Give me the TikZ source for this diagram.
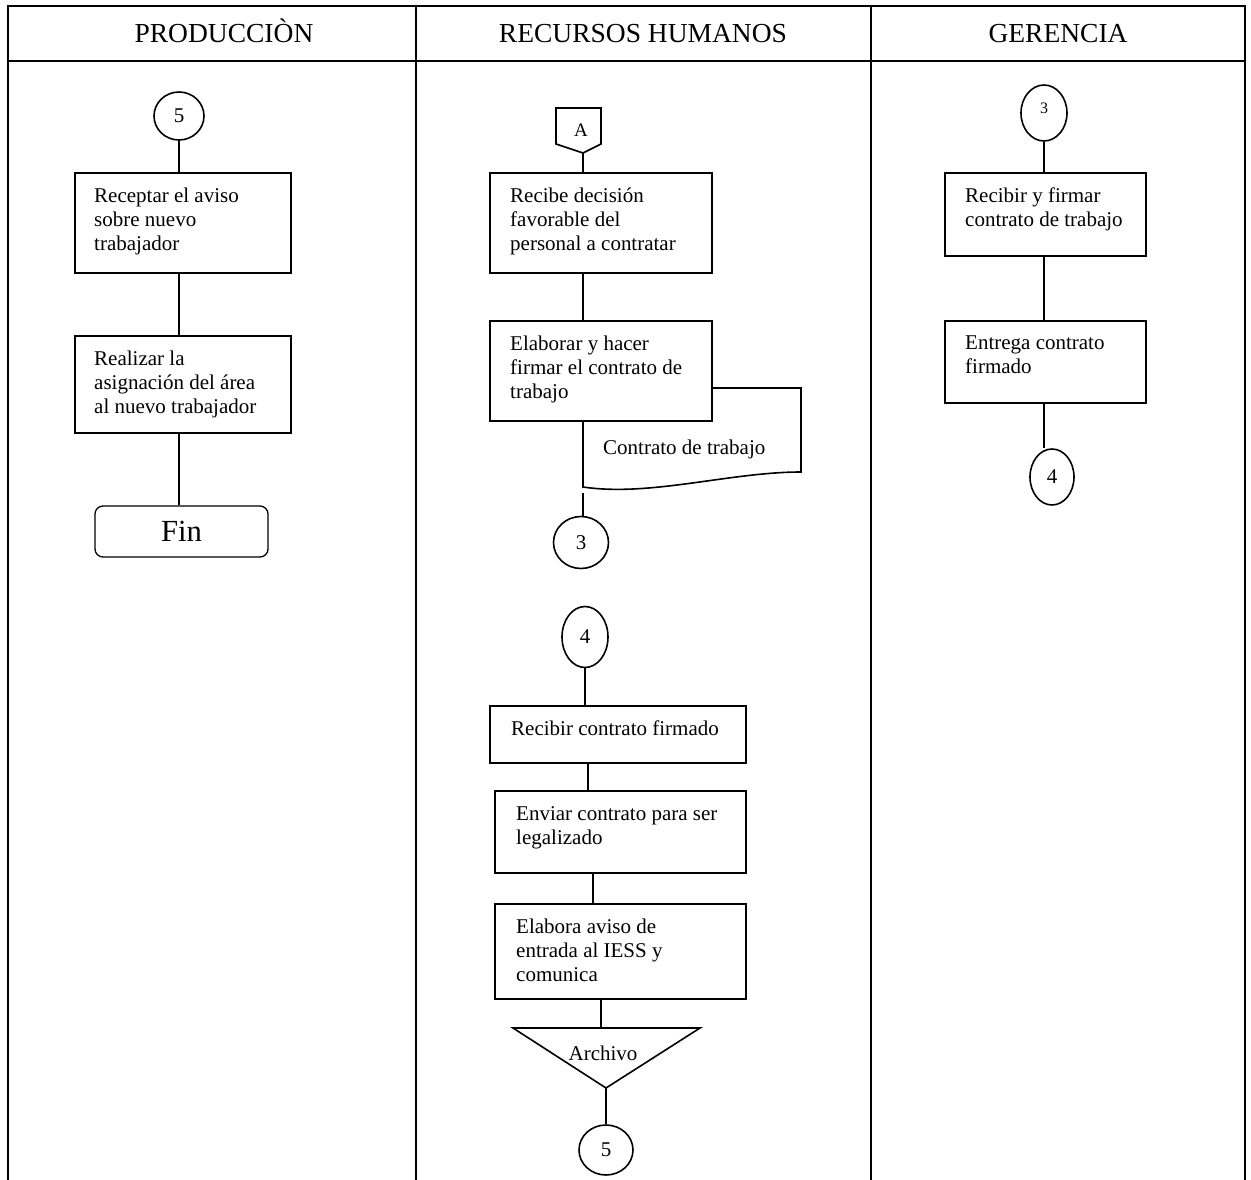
\documentclass[tikz,border=0pt]{standalone}
\usepackage{fontspec}
\setmainfont{Liberation Serif}
\usetikzlibrary{shapes.geometric}
\usetikzlibrary{positioning}

\begin{document}
\begin{tikzpicture}[x=1pt,y=-1pt,
    tabla/.style={line width=2pt},
    linea/.style={line width=1.6pt},
    caja/.style={draw, line width=1.6pt, anchor=north west, inner sep=0pt},
    texto/.style={align=left, inner sep=0pt, font=\fontsize{21}{24}\selectfont},
    conector/.style={draw, ellipse, line width=1.6pt, inner sep=0pt, font=\fontsize{21}{24}\selectfont},
    titulo/.style={anchor=base, inner sep=0pt, font=\fontsize{27.5}{30}\selectfont}]

\useasboundingbox (0,0) rectangle (1251,1180);

% tabla
\coordinate (t1) at (8,6);
\coordinate (t2) at (1245,6);
\coordinate (t3) at (8,1180);
\coordinate (t4) at (1245,1180);
\coordinate (h1) at (8,61);
\coordinate (h2) at (1245,61);
\coordinate (c1) at (416,6);
\coordinate (c1i) at (416,1180);
\coordinate (c2) at (871,6);
\coordinate (c2i) at (871,1180);

\draw[tabla] (t3)--(t1)--(t2)--(t4);
\draw[tabla] (h1)--(h2);
\draw[tabla] (c1)--(c1i);
\draw[tabla] (c2)--(c2i);

\node[titulo] (tp) at (224,43) {PRODUCCIÒN};
\node[titulo] (tr) at (643,43) {RECURSOS HUMANOS};
\node[titulo] (tg) at (1058,43) {GERENCIA};

% produccion
\node[conector, minimum width=50pt, minimum height=48pt] (p5) at (179,116) {5};
\node[caja, minimum width=216pt, minimum height=100pt] (p1) at (74,172) {};
\node[texto, below right=16pt and 20pt of p1.north west] (p1t) {Receptar el aviso\\sobre nuevo\\trabajador};
\node[caja, minimum width=216pt, minimum height=97pt] (p2) at (74,335) {};
\node[texto, below right=16pt and 20pt of p2.north west] (p2t) {Realizar la\\asignación del área\\al nuevo trabajador};
\node[draw, line width=1.3pt, rounded corners=8pt, minimum width=173pt, minimum height=51pt,
      font=\fontsize{30.7}{34}\selectfont] (fin) at (181.5,531.5) {Fin};

\draw[linea] (p5.south)--(p5 |- p1.north);
\draw[linea] (p5 |- p1.south)--(p5 |- p2.north);
\draw[linea] (p5 |- p2.south)--(p5 |- fin.north);

% recursos humanos
\coordinate (a1) at (556,108);
\coordinate (a2) at (601,108);
\coordinate (a3) at (601,144);
\coordinate (a4) at (583,153);
\coordinate (a5) at (556,144);
\draw[linea] (a1)--(a2)--(a3)--(a4)--(a5)--cycle;
\node[font=\fontsize{19}{22}\selectfont] (A) at (581,130) {A};

\node[caja, minimum width=222pt, minimum height=100pt] (r1) at (489,172) {};
\node[texto, below right=16pt and 21pt of r1.north west] (r1t) {Recibe decisión\\favorable del\\personal a contratar};
\node[caja, minimum width=222pt, minimum height=100pt] (r2) at (489,320) {};
\node[texto, below right=16pt and 21pt of r2.north west] (r2t) {Elaborar y hacer\\firmar el contrato de\\trabajo};

\draw[linea] (a4)--(a4 |- r1.north);
\draw[linea] (a4 |- r1.south)--(a4 |- r2.north);

\coordinate (d1) at (711,388);
\coordinate (d2) at (801,388);
\coordinate (d3) at (801,472);
\coordinate (d4) at (583,487);
\coordinate (d5) at (583,493);
\draw[linea] (d1)--(d2)--(d3) .. controls (730,472) and (650,497) .. (d4)--(d4 |- r2.south);
\node[texto, anchor=west] (doc) at (603,449) {Contrato de trabajo};

\node[conector, minimum width=55pt, minimum height=52pt] (r3) at (581,542.5) {3};
\draw[linea] (d5)--(d5 |- r3.north);

\node[conector, minimum width=46pt, minimum height=61pt] (r4) at (585,637) {4};
\node[caja, minimum width=256pt, minimum height=57pt] (r5) at (489,705) {};
\node[texto, below right=16pt and 22pt of r5.north west] (r5t) {Recibir contrato firmado};
\node[caja, minimum width=251pt, minimum height=82pt] (r6) at (494,790) {};
\node[texto, below right=16pt and 22pt of r6.north west] (r6t) {Enviar contrato para ser\\legalizado};
\node[caja, minimum width=251pt, minimum height=95pt] (r7) at (494,903) {};
\node[texto, below right=16pt and 22pt of r7.north west] (r7t) {Elabora aviso de\\entrada al IESS y\\comunica};

\coordinate (tr1) at (513,1028);
\coordinate (tr2) at (700,1028);
\coordinate (tr3) at (606,1088);
\coordinate (tr0) at (601,1028);
\draw[linea] (tr1)--(tr2)--(tr3)--cycle;
\node[texto] (arch) at (603,1053) {Archivo};

\node[conector, minimum width=54pt, minimum height=50pt] (r8) at (606,1150) {5};

\draw[linea] (r4.south)--(r4 |- r5.north);
\draw[linea] ([xshift=3]r4 |- r5.south)--([xshift=3]r4 |- r6.north);
\draw[linea] ([xshift=8]r4 |- r6.south)--([xshift=8]r4 |- r7.north);
\draw[linea] (tr0 |- r7.south)--(tr0);
\draw[linea] (tr3)--(r8.north);

% gerencia
\node[conector, minimum width=46pt, minimum height=56pt] (g3) at (1044,113) {};
\node[font=\fontsize{16}{18}\selectfont] (g3t) at (1044,108) {3};
\node[caja, minimum width=201pt, minimum height=83pt] (g1) at (944,172) {};
\node[texto, below right=16pt and 21pt of g1.north west] (g1t) {Recibir y firmar\\contrato de trabajo};
\node[caja, minimum width=201pt, minimum height=82pt] (g2) at (944,320) {};
\node[texto, below right=16pt and 21pt of g2.north west] (g2t) {Entrega contrato\\firmado};
\node[conector, minimum width=44pt, minimum height=56pt] (g4) at (1052,477) {4};

\draw[linea] (g3.south)--(g3 |- g1.north);
\draw[linea] (g3 |- g1.south)--(g3 |- g2.north);
\draw[linea] (g3 |- g2.south)--(g3 |- g4.north);
\end{tikzpicture}
\end{document}
